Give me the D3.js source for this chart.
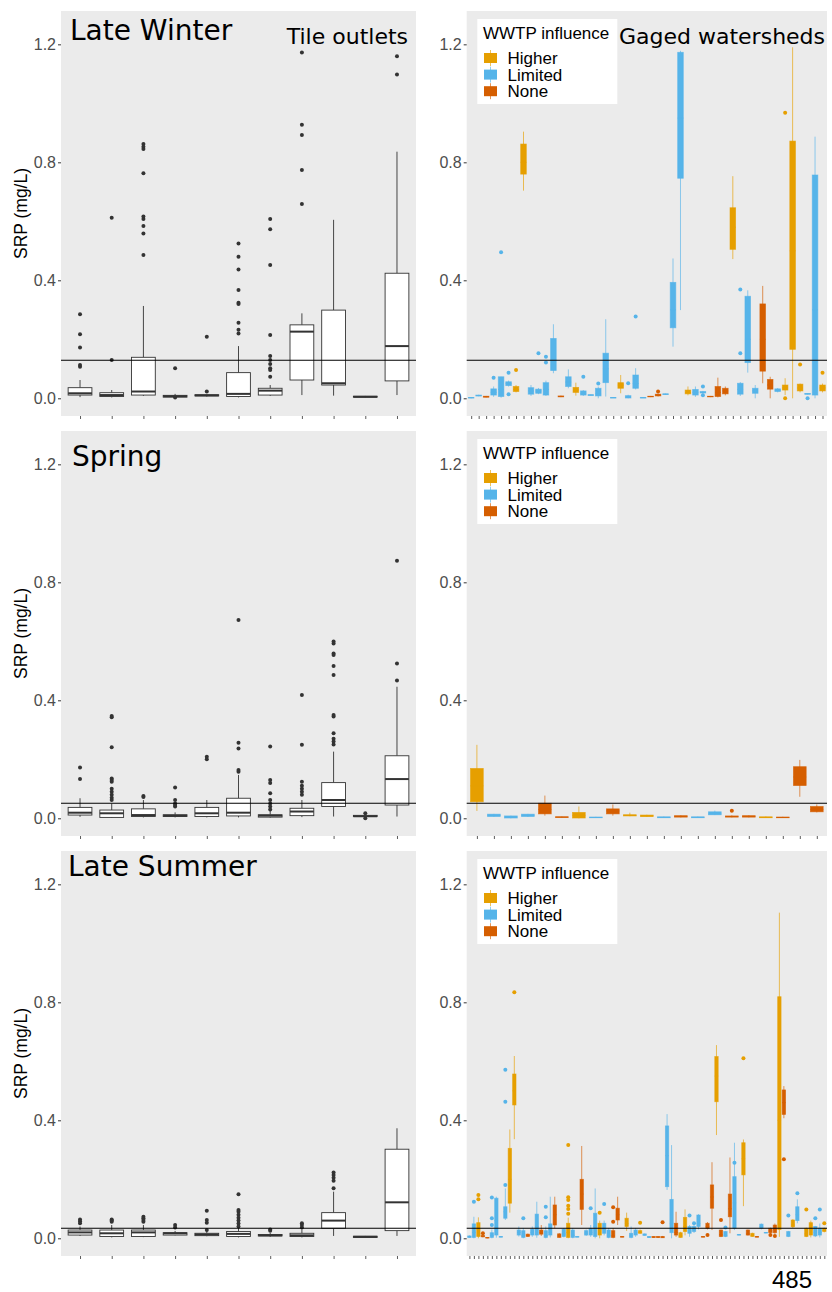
<!DOCTYPE html>
<html>
<head>
<meta charset="utf-8">
<script src="https://cdn.jsdelivr.net/npm/d3@7"></script>
<style>
  html, body { margin: 0; padding: 0; background: #fff; }
  svg { display: block; }
  .tick text { font-family: "Liberation Sans", Arial, sans-serif; }
</style>
</head>
<body>
<svg id="fig" width="832" height="1292"></svg>
<script>
// ---- season labels and reference SRP thresholds (mg/L) ----
const seasons = ["Late Winter", "Spring", "Late Summer"];
const thresholds = [0.129, 0.051, 0.034];
const yTicks = [0, 0.4, 0.8, 1.2];
const groups = ["Higher", "Limited", "None"];
const groupCodes = ["H", "L", "N"];
const groupColors = ["#E69F00", "#56B4E9", "#D55E00"];

// ---- tile outlets: [lower whisker, Q1, median, Q3, upper whisker, outliers] ----
const tileWinter = [
  [0.004, 0.011, 0.017, 0.036, 0.062, [0.285, 0.217, 0.172, 0.113, 0.107]],
  [0.003, 0.006, 0.011, 0.019, 0.028, [0.612, 0.130]],
  [0.008, 0.011, 0.023, 0.139, 0.313, [0.862, 0.853, 0.845, 0.763, 0.616, 0.608, 0.584, 0.559, 0.486]],
  [0.002, 0.004, 0.007, 0.010, 0.015, [0.102, 0.003]],
  [0.006, 0.008, 0.010, 0.012, 0.014, [0.209, 0.023]],
  [0.003, 0.006, 0.015, 0.087, 0.177, [0.525, 0.480, 0.437, 0.367, 0.324, 0.320, 0.256, 0.232, 0.220]],
  [0.008, 0.011, 0.026, 0.034, 0.045, [0.608, 0.573, 0.452, 0.215, 0.143, 0.130, 0.116, 0.102, 0.096, 0.073]],
  [0.011, 0.062, 0.226, 0.249, 0.288, [1.172, 0.927, 0.893, 0.774, 0.659]],
  [0.009, 0.045, 0.051, 0.299, 0.605, []],
  [0.003, 0.004, 0.005, 0.007, 0.008, []],
  [0.011, 0.059, 0.177, 0.424, 0.836, [1.160, 1.098]]
];
const tileSpring = [
  [0.005, 0.011, 0.019, 0.037, 0.068, [0.172, 0.133]],
  [0.001, 0.003, 0.017, 0.028, 0.050, [0.347, 0.343, 0.241, 0.135, 0.130, 0.124, 0.100, 0.090, 0.080, 0.070, 0.062]],
  [0.003, 0.006, 0.011, 0.032, 0.062, [0.076, 0.072]],
  [0.003, 0.006, 0.009, 0.012, 0.020, [0.104, 0.062, 0.050, 0.045, 0.040]],
  [0.003, 0.006, 0.017, 0.037, 0.062, [0.209, 0.200]],
  [0.003, 0.008, 0.019, 0.068, 0.147, [0.672, 0.256, 0.237, 0.164, 0.158]],
  [0.002, 0.004, 0.009, 0.012, 0.025, [0.243, 0.130, 0.120, 0.085, 0.062, 0.050, 0.040, 0.030]],
  [0.004, 0.009, 0.023, 0.034, 0.062, [0.418, 0.249, 0.124, 0.110, 0.100, 0.090, 0.080]],
  [0.006, 0.040, 0.062, 0.121, 0.226, [0.599, 0.593, 0.559, 0.554, 0.516, 0.486, 0.350, 0.345, 0.288, 0.270, 0.260, 0.250]],
  [0.004, 0.006, 0.007, 0.010, 0.012, [0.017, 0.000]],
  [0.006, 0.045, 0.133, 0.212, 0.446, [0.873, 0.525, 0.467]]
];
const tileSummer = [
  [0.008, 0.011, 0.020, 0.028, 0.040, [0.064, 0.058, 0.051]],
  [0.003, 0.006, 0.017, 0.028, 0.045, [0.064, 0.060, 0.056]],
  [0.004, 0.006, 0.020, 0.028, 0.045, [0.073, 0.068, 0.062, 0.056]],
  [0.010, 0.011, 0.017, 0.019, 0.025, [0.045, 0.037]],
  [0.007, 0.009, 0.013, 0.017, 0.024, [0.093, 0.062, 0.053, 0.028]],
  [0.003, 0.006, 0.015, 0.023, 0.035, [0.149, 0.096, 0.090, 0.080, 0.070, 0.060, 0.050, 0.040]],
  [0.005, 0.008, 0.010, 0.013, 0.018, [0.030, 0.026]],
  [0.003, 0.006, 0.010, 0.017, 0.030, [0.051, 0.045, 0.037]],
  [0.008, 0.034, 0.060, 0.087, 0.158, [0.223, 0.215, 0.205, 0.195, 0.170]],
  [0.002, 0.003, 0.005, 0.007, 0.008, []],
  [0.008, 0.026, 0.122, 0.302, 0.373, []]
];

// ---- gaged watersheds: [WWTP group, lower whisker, Q1, median, Q3, upper whisker, outliers] ----
const gagedWinter = [
  ["L", 0.000, 0.001, 0.002, 0.003, 0.004, []],
  ["L", 0.007, 0.008, 0.009, 0.011, 0.012, []],
  ["N", 0.003, 0.004, 0.005, 0.007, 0.008, []],
  ["L", 0.005, 0.011, 0.020, 0.032, 0.040, [0.070]],
  ["L", 0.002, 0.006, 0.030, 0.073, 0.073, [0.495]],
  ["L", 0.040, 0.043, 0.050, 0.056, 0.060, [0.087, 0.014]],
  ["H", 0.020, 0.023, 0.030, 0.040, 0.045, [0.096]],
  ["H", 0.704, 0.760, 0.800, 0.862, 0.904, []],
  ["L", 0.008, 0.014, 0.025, 0.036, 0.045, []],
  ["L", 0.014, 0.017, 0.025, 0.031, 0.035, [0.153]],
  ["L", 0.008, 0.011, 0.030, 0.053, 0.060, [0.141, 0.121]],
  ["L", 0.085, 0.094, 0.130, 0.203, 0.251, []],
  ["N", 0.004, 0.005, 0.006, 0.008, 0.009, []],
  ["L", 0.034, 0.040, 0.055, 0.073, 0.098, []],
  ["H", 0.009, 0.020, 0.028, 0.037, 0.053, []],
  ["L", 0.008, 0.011, 0.017, 0.025, 0.028, [0.073]],
  ["L", 0.009, 0.010, 0.011, 0.012, 0.013, []],
  ["L", 0.000, 0.008, 0.015, 0.034, 0.040, [0.050]],
  ["L", 0.006, 0.053, 0.100, 0.153, 0.268, []],
  ["L", 0.001, 0.002, 0.002, 0.003, 0.004, []],
  ["H", 0.017, 0.034, 0.045, 0.053, 0.079, []],
  ["L", 0.000, 0.001, 0.004, 0.009, 0.012, [0.051]],
  ["L", 0.030, 0.034, 0.050, 0.079, 0.102, [0.277]],
  ["L", 0.001, 0.001, 0.002, 0.003, 0.003, []],
  ["N", 0.004, 0.005, 0.006, 0.007, 0.008, []],
  ["N", 0.006, 0.008, 0.011, 0.014, 0.016, [0.023]],
  ["L", 0.012, 0.013, 0.014, 0.015, 0.016, []],
  ["L", 0.175, 0.239, 0.300, 0.393, 0.474, []],
  ["L", 0.299, 0.746, 0.950, 1.173, 1.178, []],
  ["H", 0.010, 0.015, 0.020, 0.028, 0.040, []],
  ["L", 0.005, 0.011, 0.020, 0.030, 0.040, []],
  ["L", 0.013, 0.018, 0.020, 0.023, 0.025, [0.040, 0.010]],
  ["N", 0.004, 0.005, 0.006, 0.007, 0.008, []],
  ["N", 0.003, 0.006, 0.020, 0.040, 0.070, []],
  ["N", 0.010, 0.015, 0.025, 0.034, 0.040, []],
  ["H", 0.472, 0.505, 0.580, 0.646, 0.753, []],
  ["L", 0.008, 0.014, 0.030, 0.051, 0.055, [0.369, 0.153]],
  ["L", 0.087, 0.121, 0.200, 0.346, 0.366, []],
  ["L", 0.000, 0.017, 0.025, 0.034, 0.045, []],
  ["N", 0.051, 0.092, 0.200, 0.320, 0.381, []],
  ["N", 0.000, 0.031, 0.045, 0.064, 0.073, []],
  ["L", 0.020, 0.023, 0.027, 0.032, 0.035, []],
  ["H", 0.011, 0.028, 0.035, 0.045, 0.068, [0.968, 0.000]],
  ["H", 0.000, 0.166, 0.500, 0.872, 1.190, []],
  ["H", 0.020, 0.025, 0.035, 0.048, 0.050, [0.115]],
  ["L", 0.013, 0.014, 0.015, 0.016, 0.017, [0.000]],
  ["L", 0.000, 0.011, 0.300, 0.757, 0.887, []],
  ["H", 0.020, 0.025, 0.035, 0.045, 0.050, [0.087]]
];
const gagedSpring = [
  ["H", 0.025, 0.056, 0.110, 0.169, 0.249, []],
  ["L", 0.005, 0.006, 0.010, 0.014, 0.015, []],
  ["L", 0.000, 0.001, 0.004, 0.008, 0.009, []],
  ["L", 0.005, 0.006, 0.010, 0.014, 0.015, []],
  ["N", 0.009, 0.015, 0.030, 0.051, 0.077, []],
  ["N", 0.002, 0.003, 0.004, 0.005, 0.006, []],
  ["H", 0.000, 0.001, 0.010, 0.020, 0.040, []],
  ["L", 0.001, 0.002, 0.003, 0.004, 0.005, []],
  ["N", 0.009, 0.015, 0.025, 0.032, 0.047, []],
  ["H", 0.007, 0.008, 0.010, 0.012, 0.019, []],
  ["H", 0.005, 0.006, 0.008, 0.011, 0.012, []],
  ["L", 0.001, 0.002, 0.003, 0.005, 0.006, []],
  ["N", 0.003, 0.004, 0.006, 0.009, 0.010, []],
  ["L", 0.001, 0.002, 0.003, 0.005, 0.006, []],
  ["L", 0.011, 0.012, 0.015, 0.022, 0.026, []],
  ["N", 0.003, 0.004, 0.006, 0.008, 0.010, [0.026]],
  ["N", 0.003, 0.004, 0.006, 0.009, 0.010, []],
  ["H", 0.001, 0.002, 0.003, 0.005, 0.006, []],
  ["N", 0.001, 0.002, 0.003, 0.004, 0.005, []],
  ["N", 0.073, 0.111, 0.140, 0.175, 0.198, []],
  ["N", 0.020, 0.022, 0.030, 0.040, 0.047, []]
];
const gagedSummer = [
  ["L", 0.001, 0.003, 0.005, 0.008, 0.010, []],
  ["L", 0.000, 0.003, 0.020, 0.049, 0.073, [0.124]],
  ["H", 0.000, 0.006, 0.030, 0.053, 0.071, [0.147, 0.132]],
  ["N", 0.003, 0.005, 0.007, 0.010, 0.012, [0.017]],
  ["N", 0.000, 0.001, 0.002, 0.003, 0.004, []],
  ["L", 0.000, 0.003, 0.010, 0.019, 0.030, [0.138, 0.068, 0.045]],
  ["L", 0.002, 0.011, 0.060, 0.136, 0.141, []],
  ["L", 0.004, 0.005, 0.005, 0.006, 0.007, []],
  ["L", 0.062, 0.068, 0.090, 0.107, 0.169, [0.571, 0.463, 0.181]],
  ["H", 0.087, 0.119, 0.200, 0.305, 0.369, []],
  ["H", 0.336, 0.452, 0.500, 0.557, 0.618, [0.834]],
  ["L", 0.006, 0.011, 0.020, 0.028, 0.040, []],
  ["L", 0.000, 0.003, 0.010, 0.026, 0.035, [0.068]],
  ["N", 0.005, 0.006, 0.010, 0.014, 0.016, []],
  ["L", 0.005, 0.011, 0.020, 0.031, 0.040, []],
  ["L", 0.002, 0.011, 0.040, 0.082, 0.124, []],
  ["N", 0.008, 0.014, 0.020, 0.028, 0.045, []],
  ["L", 0.000, 0.003, 0.010, 0.026, 0.040, [0.107, 0.071]],
  ["L", 0.003, 0.011, 0.020, 0.049, 0.141, []],
  ["N", 0.034, 0.045, 0.080, 0.113, 0.141, []],
  ["N", 0.002, 0.003, 0.008, 0.015, 0.018, []],
  ["L", 0.003, 0.006, 0.015, 0.031, 0.035, []],
  ["H", 0.000, 0.003, 0.020, 0.051, 0.070, [0.316, 0.139, 0.130, 0.110, 0.099, 0.083]],
  ["L", 0.000, 0.003, 0.010, 0.028, 0.035, []],
  ["L", 0.004, 0.005, 0.005, 0.006, 0.007, []],
  ["N", 0.045, 0.098, 0.150, 0.200, 0.313, []],
  ["L", 0.008, 0.011, 0.018, 0.026, 0.030, []],
  ["L", 0.005, 0.011, 0.020, 0.034, 0.045, [0.102]],
  ["L", 0.000, 0.006, 0.040, 0.085, 0.169, []],
  ["H", 0.000, 0.011, 0.030, 0.051, 0.060, [0.087]],
  ["L", 0.010, 0.017, 0.030, 0.051, 0.060, [0.116]],
  ["L", 0.000, 0.003, 0.010, 0.028, 0.035, []],
  ["N", 0.000, 0.003, 0.008, 0.026, 0.035, [0.105, 0.056]],
  ["N", 0.045, 0.062, 0.080, 0.102, 0.141, []],
  ["N", 0.004, 0.005, 0.005, 0.006, 0.007, []],
  ["H", 0.025, 0.040, 0.050, 0.068, 0.087, []],
  ["L", 0.000, 0.003, 0.008, 0.017, 0.040, []],
  ["L", 0.005, 0.011, 0.020, 0.028, 0.035, []],
  ["H", 0.015, 0.017, 0.020, 0.026, 0.030, [0.053]],
  ["L", 0.009, 0.010, 0.012, 0.015, 0.016, []],
  ["L", 0.002, 0.003, 0.004, 0.006, 0.007, []],
  ["N", 0.002, 0.003, 0.004, 0.006, 0.007, []],
  ["N", 0.002, 0.003, 0.004, 0.006, 0.007, []],
  ["N", 0.001, 0.002, 0.004, 0.006, 0.008, [0.054]],
  ["L", 0.164, 0.175, 0.280, 0.381, 0.421, []],
  ["L", 0.000, 0.019, 0.050, 0.132, 0.316, []],
  ["N", 0.005, 0.011, 0.020, 0.051, 0.090, []],
  ["H", 0.002, 0.003, 0.008, 0.019, 0.022, []],
  ["H", 0.010, 0.023, 0.040, 0.071, 0.098, []],
  ["L", 0.005, 0.017, 0.025, 0.040, 0.045, [0.077]],
  ["L", 0.018, 0.023, 0.030, 0.040, 0.045, [0.051]],
  ["L", 0.030, 0.040, 0.050, 0.079, 0.082, []],
  ["N", 0.004, 0.005, 0.005, 0.006, 0.007, []],
  ["N", 0.030, 0.034, 0.040, 0.051, 0.055, [0.011]],
  ["N", 0.028, 0.102, 0.140, 0.181, 0.258, []],
  ["H", 0.350, 0.463, 0.550, 0.616, 0.655, []],
  ["N", 0.004, 0.006, 0.012, 0.028, 0.030, [0.062]],
  ["L", 0.004, 0.006, 0.010, 0.023, 0.025, [0.037]],
  ["N", 0.017, 0.073, 0.100, 0.150, 0.274, []],
  ["L", 0.028, 0.034, 0.120, 0.209, 0.324, [0.256]],
  ["L", 0.010, 0.011, 0.012, 0.013, 0.014, []],
  ["H", 0.109, 0.215, 0.270, 0.324, 0.335, [0.610]],
  ["N", 0.009, 0.011, 0.015, 0.028, 0.030, []],
  ["H", 0.005, 0.006, 0.010, 0.017, 0.019, []],
  ["N", 0.004, 0.005, 0.005, 0.006, 0.007, []],
  ["L", 0.030, 0.034, 0.040, 0.048, 0.050, []],
  ["L", 0.017, 0.018, 0.019, 0.020, 0.021, []],
  ["N", 0.015, 0.019, 0.025, 0.034, 0.036, [0.011]],
  ["N", 0.015, 0.019, 0.030, 0.045, 0.050, [0.008]],
  ["H", 0.005, 0.030, 0.400, 0.819, 1.104, []],
  ["N", 0.407, 0.420, 0.460, 0.503, 0.516, [0.268]],
  ["L", 0.004, 0.006, 0.010, 0.023, 0.025, [0.077]],
  ["H", 0.035, 0.039, 0.045, 0.062, 0.065, []],
  ["L", 0.051, 0.060, 0.080, 0.107, 0.132, [0.153]],
  null,
  ["H", 0.004, 0.006, 0.015, 0.034, 0.036, [0.098]],
  ["H", 0.003, 0.011, 0.030, 0.053, 0.060, []],
  ["L", 0.004, 0.008, 0.020, 0.040, 0.042, [0.068]],
  ["L", 0.003, 0.011, 0.020, 0.034, 0.050, [0.098]],
  ["H", 0.020, 0.023, 0.027, 0.034, 0.036, [0.051]]
];

const tileSets = [tileWinter, tileSpring, tileSummer];
const gagedSets = [gagedWinter, gagedSpring, gagedSummer];

// ---- layout ----
const svg = d3.select("#fig");
const rows = [[11, 416], [431, 836], [851, 1256]];
const leftCols = [61, 416];
const rightCols = [466.7, 827];
const yDomain = [-0.06, 1.313];
const PANEL_BG = "#EBEBEB";
const INK = "#333333";
const TICK_TEXT = "#4D4D4D";
const sans = "'Liberation Sans', Arial, sans-serif";
const titleFont = "'DejaVu Sans', Verdana, sans-serif";
const colorOf = d3.scaleOrdinal().domain(groupCodes).range(groupColors);

function yScale(r) {
  return d3.scaleLinear().domain(yDomain).range([rows[r][1], rows[r][0]]);
}

function drawAxes(g, x, y, cols, r) {
  g.append("rect")
    .attr("x", cols[0]).attr("y", rows[r][0])
    .attr("width", cols[1] - cols[0]).attr("height", rows[r][1] - rows[r][0])
    .attr("fill", PANEL_BG);

  const ya = g.append("g").attr("transform", `translate(${cols[0]},0)`)
    .call(d3.axisLeft(y).tickValues(yTicks).tickFormat(d3.format(".1f")).tickSize(3).tickPadding(2));
  ya.select(".domain").remove();
  ya.selectAll(".tick line").attr("stroke", INK);
  ya.selectAll(".tick text").attr("fill", TICK_TEXT).style("font-size", "16px").attr("font-family", sans);

  const xa = g.append("g").attr("transform", `translate(0,${rows[r][1]})`)
    .call(d3.axisBottom(x).tickSize(3).tickFormat(""));
  xa.select(".domain").remove();
  xa.selectAll(".tick line").attr("stroke", INK).attr("stroke-width", 0.8);
}

function drawTilePanel(r) {
  const data = tileSets[r];
  const g = svg.append("g");
  const x = d3.scalePoint().domain(d3.range(data.length)).range(leftCols).padding(0.6);
  const y = yScale(r);
  drawAxes(g, x, y, leftCols, r);
  const w = x.step() * 0.75;

  const box = g.selectAll("g.box").data(data).join("g")
    .attr("transform", (d, i) => `translate(${x(i)},0)`);
  box.append("line").attr("y1", d => y(d[3])).attr("y2", d => y(d[4]))
    .attr("stroke", INK).attr("stroke-width", 0.9);
  box.append("line").attr("y1", d => y(d[0])).attr("y2", d => y(d[1]))
    .attr("stroke", INK).attr("stroke-width", 0.9);
  box.append("rect")
    .attr("x", -w / 2).attr("width", w)
    .attr("y", d => y(d[3])).attr("height", d => Math.max(0.5, y(d[1]) - y(d[3])))
    .attr("fill", "#fff").attr("stroke", INK).attr("stroke-width", 0.9);
  box.append("line").attr("x1", -w / 2).attr("x2", w / 2)
    .attr("y1", d => y(d[2])).attr("y2", d => y(d[2]))
    .attr("stroke", INK).attr("stroke-width", 2);
  box.selectAll("circle").data(d => d[5]).join("circle")
    .attr("cx", 0).attr("cy", v => y(v)).attr("r", 2).attr("fill", INK);

  g.append("line").attr("x1", leftCols[0]).attr("x2", leftCols[1])
    .attr("y1", y(thresholds[r])).attr("y2", y(thresholds[r]))
    .attr("stroke", "#000").attr("stroke-width", 1.2);

  // y-axis title
  const cy = (rows[r][0] + rows[r][1]) / 2;
  g.append("text").attr("transform", `translate(27,${cy}) rotate(-90)`)
    .attr("text-anchor", "middle").attr("font-family", sans).attr("font-size", 17.5)
    .attr("fill", "#000").text("SRP (mg/L)");
}

function drawGagedPanel(r) {
  const data = gagedSets[r];
  const g = svg.append("g");
  const x = d3.scalePoint().domain(d3.range(data.length)).range(rightCols).padding(0.6);
  const y = yScale(r);
  drawAxes(g, x, y, rightCols, r);
  const w = x.step() * 0.75;

  const present = data.map((d, i) => ({ d, i })).filter(o => o.d);
  const box = g.selectAll("g.box").data(present).join("g")
    .attr("transform", o => `translate(${x(o.i)},0)`);
  box.append("line").attr("y1", o => y(o.d[1])).attr("y2", o => y(o.d[5]))
    .attr("stroke", o => colorOf(o.d[0])).attr("stroke-opacity", 0.65).attr("stroke-width", 1);
  box.append("rect")
    .attr("x", -w / 2).attr("width", w)
    .attr("y", o => y(o.d[4])).attr("height", o => Math.max(0.6, y(o.d[2]) - y(o.d[4])))
    .attr("fill", o => colorOf(o.d[0]))
    .attr("stroke", o => colorOf(o.d[0])).attr("stroke-opacity", 0.7).attr("stroke-width", 0.8);
  box.append("line").attr("x1", -w / 2).attr("x2", w / 2)
    .attr("y1", o => y(o.d[3])).attr("y2", o => y(o.d[3]))
    .attr("stroke", o => colorOf(o.d[0])).attr("stroke-width", 1);
  box.selectAll("circle").data(o => o.d[6].map(v => ({ v, c: o.d[0] }))).join("circle")
    .attr("cx", 0).attr("cy", p => y(p.v)).attr("r", 2).attr("fill", p => colorOf(p.c));

  g.append("line").attr("x1", rightCols[0]).attr("x2", rightCols[1])
    .attr("y1", y(thresholds[r])).attr("y2", y(thresholds[r]))
    .attr("stroke", "#000").attr("stroke-width", 1.2);

  // legend
  const top = rows[r][0] + 8;
  const lg = g.append("g");
  lg.append("rect").attr("x", 477.3).attr("y", top).attr("width", 140).attr("height", 85).attr("fill", "#fff");
  lg.append("text").attr("x", 483).attr("y", top + 20).attr("font-family", sans)
    .attr("font-size", 17).attr("fill", "#000").text("WWTP influence");
  const key = lg.selectAll("g.key").data(groups).join("g")
    .attr("transform", (d, i) => `translate(490.5,${top + 39 + i * 16.6})`);
  key.append("line").attr("y1", -8).attr("y2", 8)
    .attr("stroke", (d, i) => groupColors[i]).attr("stroke-opacity", 0.65);
  key.append("rect").attr("x", -6.5).attr("y", -5).attr("width", 13).attr("height", 10)
    .attr("fill", (d, i) => groupColors[i]);
  key.append("text").attr("x", 17).attr("y", 6).attr("font-family", sans)
    .attr("font-size", 17).attr("fill", "#000").text(d => d);
}

for (let r = 0; r < 3; r++) {
  drawTilePanel(r);
  drawGagedPanel(r);
}

// panel annotations
const seasonPos = [[70, 39.5], [72, 466], [68, 876]];
seasons.forEach((s, i) => {
  svg.append("text").attr("x", seasonPos[i][0]).attr("y", seasonPos[i][1])
    .attr("font-family", titleFont).attr("font-size", 28).attr("fill", "#000").text(s);
});
svg.append("text").attr("x", 408).attr("y", 43.5).attr("text-anchor", "end")
  .attr("font-family", titleFont).attr("font-size", 22).attr("fill", "#000").text("Tile outlets");
svg.append("text").attr("x", 619).attr("y", 43.5)
  .attr("font-family", titleFont).attr("font-size", 22).attr("fill", "#000").text("Gaged watersheds");

// page number
svg.append("text").attr("x", 812).attr("y", 1288).attr("text-anchor", "end")
  .attr("font-family", sans).attr("font-size", 24).attr("fill", "#000").text("485");
</script>
</body>
</html>
